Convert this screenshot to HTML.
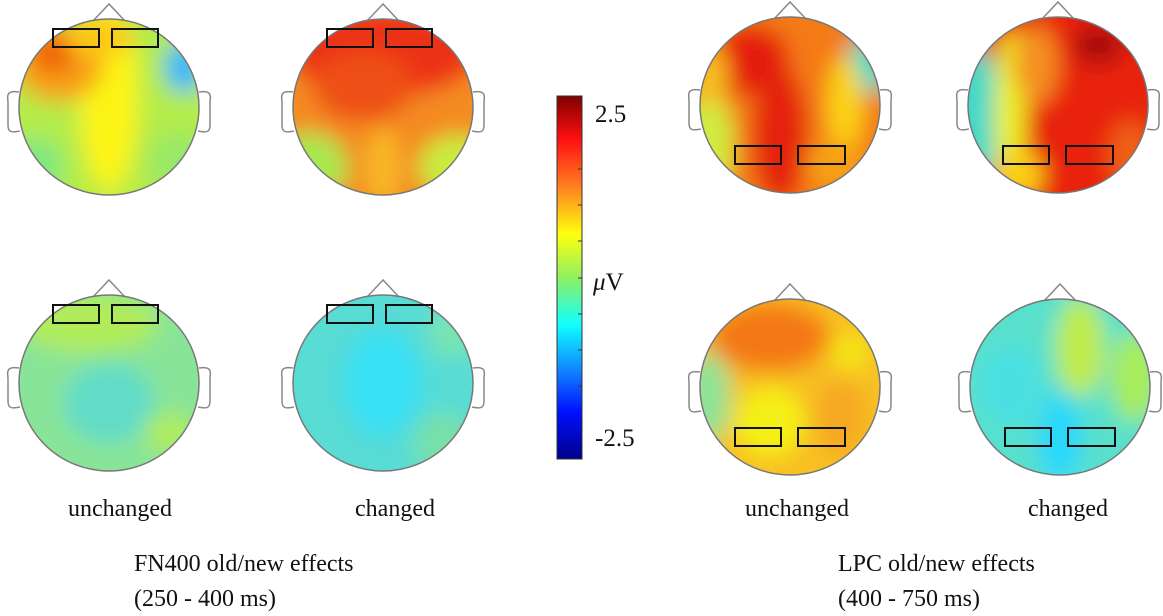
<!DOCTYPE html>
<html><head><meta charset="utf-8"><style>
html,body{margin:0;padding:0;background:#fff;}
svg{display:block;}
text{font-family:"Liberation Serif",serif;fill:#111;}
</style></head><body>
<svg width="1163" height="616" viewBox="0 0 1163 616" xmlns="http://www.w3.org/2000/svg">
<defs>
<clipPath id="hc"><ellipse cx="0" cy="0" rx="90" ry="88"/></clipPath>
<filter id="bl" x="-50%" y="-50%" width="200%" height="200%"><feGaussianBlur stdDeviation="11"/></filter>
<linearGradient id="jet" x1="0" y1="0" x2="0" y2="1">
<stop offset="0" stop-color="#800000"/>
<stop offset="0.12" stop-color="#ff1010"/>
<stop offset="0.25" stop-color="#ff8020"/>
<stop offset="0.38" stop-color="#ffff10"/>
<stop offset="0.5" stop-color="#90f060"/>
<stop offset="0.63" stop-color="#10ffff"/>
<stop offset="0.76" stop-color="#1080ff"/>
<stop offset="0.87" stop-color="#0010ff"/>
<stop offset="1" stop-color="#00008a"/>
</linearGradient>
<g id="outline">
<path d="M-16,-86 L0,-103 L16,-86" fill="none" stroke="#888" stroke-width="1.5"/>
<path d="M-90,-15 C-102,-17 -102,-12 -101,-5 L-101,18 C-101,25 -98,26 -89,24" fill="none" stroke="#888" stroke-width="1.5"/>
<path d="M90,-15 C102,-17 102,-12 101,-5 L101,18 C101,25 98,26 89,24" fill="none" stroke="#888" stroke-width="1.5"/>
<ellipse cx="0" cy="0" rx="90" ry="88" fill="none" stroke="#777" stroke-width="1.5"/>
</g>
<g id="fnr" fill="none" stroke="#111" stroke-width="2">
<rect x="-56" y="-78" width="46" height="18"/><rect x="3" y="-78" width="46" height="18"/>
</g>
<g id="lpr" fill="none" stroke="#111" stroke-width="2">
<rect x="-55" y="41" width="46" height="18"/><rect x="8" y="41" width="47" height="18"/>
</g>
</defs>

<!-- Head 1 -->
<g transform="translate(109,107)">
<g clip-path="url(#hc)"><g filter="url(#bl)">
<rect x="-110" y="-110" width="220" height="220" fill="#b4ec48"/>
<ellipse cx="0" cy="-10" rx="30" ry="95" fill="#fcf414"/>
<ellipse cx="-50" cy="-45" rx="45" ry="40" fill="#f8a018"/>
<ellipse cx="-55" cy="-55" rx="22" ry="22" fill="#f06010"/>
<ellipse cx="-10" cy="-70" rx="35" ry="20" fill="#fcc818"/>
<ellipse cx="75" cy="-40" rx="20" ry="26" fill="#30b8f8"/>
<ellipse cx="-75" cy="60" rx="30" ry="30" fill="#80e880"/>
<ellipse cx="70" cy="55" rx="30" ry="30" fill="#98e868"/>
</g></g>
<use href="#outline"/><use href="#fnr"/>
</g>

<!-- Head 2 -->
<g transform="translate(383,107)">
<g clip-path="url(#hc)"><g filter="url(#bl)">
<rect x="-110" y="-110" width="220" height="220" fill="#f48a20"/>
<ellipse cx="0" cy="-55" rx="95" ry="45" fill="#ec3018"/>
<ellipse cx="-20" cy="-20" rx="50" ry="35" fill="#ee5018"/>
<ellipse cx="-75" cy="60" rx="40" ry="35" fill="#a8e850"/>
<ellipse cx="75" cy="60" rx="40" ry="32" fill="#c8ec40"/>
<ellipse cx="0" cy="60" rx="18" ry="40" fill="#f8b828"/>
</g></g>
<use href="#outline"/><use href="#fnr"/>
</g>

<!-- Head 3 -->
<g transform="translate(790,105)">
<g clip-path="url(#hc)"><g filter="url(#bl)">
<rect x="-110" y="-110" width="220" height="220" fill="#f47a18"/>
<ellipse cx="-40" cy="-45" rx="40" ry="35" fill="#e41c10"/>
<ellipse cx="-10" cy="30" rx="28" ry="70" fill="#e42010"/>
<ellipse cx="-82" cy="40" rx="26" ry="55" fill="#d0ec40"/>
<ellipse cx="-80" cy="-30" rx="18" ry="30" fill="#f8c020"/>
<ellipse cx="78" cy="-40" rx="22" ry="28" fill="#40d8c8"/>
<ellipse cx="55" cy="0" rx="18" ry="50" fill="#fad418"/>
<ellipse cx="45" cy="60" rx="30" ry="25" fill="#f6a018"/>
</g></g>
<use href="#outline"/><use href="#lpr"/>
</g>

<!-- Head 4 -->
<g transform="translate(1058,105)">
<g clip-path="url(#hc)"><g filter="url(#bl)">
<rect x="-110" y="-110" width="220" height="220" fill="#e82010"/>
<ellipse cx="-85" cy="10" rx="28" ry="70" fill="#40d8c8"/>
<ellipse cx="-48" cy="10" rx="16" ry="85" fill="#ecf028"/>
<ellipse cx="-22" cy="-40" rx="22" ry="40" fill="#f49020"/>
<ellipse cx="40" cy="-60" rx="25" ry="20" fill="#a80808"/>
<ellipse cx="72" cy="50" rx="22" ry="35" fill="#f06018"/>
<ellipse cx="-40" cy="70" rx="25" ry="25" fill="#fad018"/>
</g></g>
<use href="#outline"/><use href="#lpr"/>
</g>

<!-- Head 5 -->
<g transform="translate(109,383)">
<g clip-path="url(#hc)"><g filter="url(#bl)">
<rect x="-110" y="-110" width="220" height="220" fill="#88e498"/>
<ellipse cx="-20" cy="-60" rx="70" ry="30" fill="#b0ec58"/>
<ellipse cx="0" cy="20" rx="45" ry="40" fill="#60dcc8"/>
<ellipse cx="60" cy="50" rx="25" ry="20" fill="#b0ec58"/>
</g></g>
<use href="#outline"/><use href="#fnr"/>
</g>

<!-- Head 6 -->
<g transform="translate(383,383)">
<g clip-path="url(#hc)"><g filter="url(#bl)">
<rect x="-110" y="-110" width="220" height="220" fill="#58dcd4"/>
<ellipse cx="0" cy="0" rx="40" ry="55" fill="#38e0f4"/>
<ellipse cx="60" cy="60" rx="30" ry="30" fill="#78e0a8"/>
<ellipse cx="70" cy="-50" rx="25" ry="25" fill="#78e4b0"/>
</g></g>
<use href="#outline"/><use href="#fnr"/>
</g>

<!-- Head 7 -->
<g transform="translate(790,387)">
<g clip-path="url(#hc)"><g filter="url(#bl)">
<rect x="-110" y="-110" width="220" height="220" fill="#f8c020"/>
<ellipse cx="-20" cy="-50" rx="60" ry="35" fill="#f47818"/>
<ellipse cx="-82" cy="10" rx="22" ry="45" fill="#88e498"/>
<ellipse cx="-20" cy="35" rx="35" ry="35" fill="#f4f014"/>
<ellipse cx="50" cy="30" rx="25" ry="40" fill="#f6a820"/>
<ellipse cx="60" cy="-35" rx="20" ry="20" fill="#f4e414"/>
</g></g>
<use href="#outline"/><use href="#lpr"/>
</g>

<!-- Head 8 -->
<g transform="translate(1060,387)">
<g clip-path="url(#hc)"><g filter="url(#bl)">
<rect x="-110" y="-110" width="220" height="220" fill="#58e0cc"/>
<ellipse cx="20" cy="-40" rx="25" ry="50" fill="#c0ec48"/>
<ellipse cx="75" cy="-10" rx="25" ry="45" fill="#a8ec58"/>
<ellipse cx="0" cy="50" rx="22" ry="45" fill="#28d8fc"/>
<ellipse cx="-50" cy="0" rx="30" ry="40" fill="#48e0e4"/>
</g></g>
<use href="#outline"/><use href="#lpr"/>
</g>

<!-- Colorbar -->
<rect x="557" y="96" width="25" height="363" fill="url(#jet)" stroke="#333" stroke-width="1"/>
<g stroke="#333" stroke-width="1">
<line x1="578" y1="169" x2="582" y2="169"/><line x1="578" y1="205" x2="582" y2="205"/>
<line x1="578" y1="241" x2="582" y2="241"/><line x1="578" y1="278" x2="582" y2="278"/>
<line x1="578" y1="314" x2="582" y2="314"/><line x1="578" y1="350" x2="582" y2="350"/>
<line x1="578" y1="386" x2="582" y2="386"/>
</g>
<text x="595" y="122" font-size="25">2.5</text>
<text x="593" y="290" font-size="25"><tspan font-style="italic">μ</tspan>V</text>
<text x="595" y="446" font-size="25">-2.5</text>

<text x="120" y="516" font-size="24" text-anchor="middle">unchanged</text>
<text x="395" y="516" font-size="24" text-anchor="middle">changed</text>
<text x="797" y="516" font-size="24" text-anchor="middle">unchanged</text>
<text x="1068" y="516" font-size="24" text-anchor="middle">changed</text>
<text x="134" y="571" font-size="24">FN400 old/new effects</text>
<text x="134" y="606" font-size="24">(250 - 400 ms)</text>
<text x="838" y="571" font-size="24">LPC old/new effects</text>
<text x="838" y="606" font-size="24">(400 - 750 ms)</text>
</svg>
</body></html>
